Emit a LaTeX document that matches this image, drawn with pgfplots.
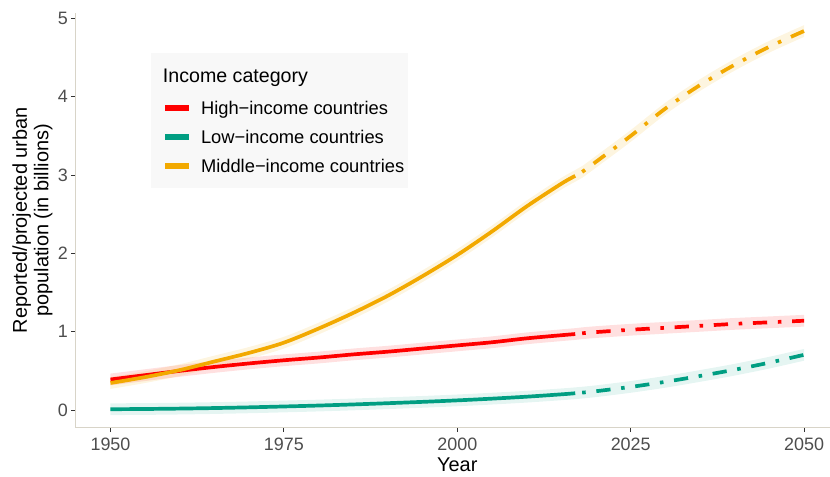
\documentclass[border=0pt]{standalone}
\usepackage{fontspec}
\setmainfont{Liberation Sans}
\usepackage{pgfplots}
\pgfplotsset{compat=1.18}
\usepackage{pgfplotstable}
\usepgfplotslibrary{fillbetween}

\definecolor{hicol}{RGB}{255,0,0}
\definecolor{locol}{RGB}{0,158,130}
\definecolor{micol}{RGB}{242,169,0}
\definecolor{axcol}{RGB}{216,212,200}
\definecolor{tkcol}{RGB}{77,77,77}
\definecolor{legbg}{RGB}{248,248,248}

% urban population in billions, with half-width of the uncertainty band
\pgfplotstableread{
year v se
1950 0.39 0.075
1955 0.445 0.075
1960 0.50 0.075
1965 0.55 0.075
1970 0.595 0.075
1975 0.635 0.075
1980 0.67 0.075
1985 0.71 0.075
1990 0.745 0.075
1995 0.785 0.075
2000 0.825 0.075
2005 0.865 0.075
2010 0.915 0.075
2015 0.955 0.075
2017 0.97 0.075
2018 0.98 0.075
2020 0.995 0.075
2025 1.025 0.075
2030 1.05 0.075
2035 1.075 0.075
2040 1.10 0.075
2045 1.12 0.075
2050 1.14 0.075
}\high

\pgfplotstableread{
year v se
1950 0.010 0.075
1955 0.013 0.075
1960 0.018 0.075
1965 0.025 0.075
1970 0.034 0.075
1975 0.045 0.075
1980 0.057 0.075
1985 0.071 0.075
1990 0.087 0.075
1995 0.104 0.075
2000 0.123 0.075
2005 0.145 0.075
2010 0.170 0.075
2015 0.200 0.075
2017 0.214 0.075
2018 0.222 0.075
2020 0.240 0.075
2025 0.295 0.075
2030 0.360 0.075
2035 0.435 0.075
2040 0.515 0.075
2045 0.605 0.075
2050 0.705 0.075
}\low

\pgfplotstableread{
year v se
1950 0.345 0.075
1955 0.42 0.075
1960 0.51 0.075
1965 0.62 0.075
1970 0.73 0.075
1975 0.86 0.075
1980 1.04 0.075
1985 1.24 0.075
1990 1.46 0.075
1995 1.71 0.075
2000 1.98 0.075
2005 2.28 0.075
2010 2.60 0.075
2015 2.89 0.075
2017 2.99 0.075
2018 3.04 0.075
2020 3.17 0.075
2025 3.50 0.075
2030 3.85 0.075
2035 4.15 0.075
2040 4.41 0.075
2045 4.64 0.075
2050 4.84 0.075
}\middle

\pgfplotsset{
  proj/.style={dash pattern=on 3.56bp off 10.7bp on 14.25bp off 10.7bp},
  series/.style={line width=3.7bp, smooth, forget plot},
}

\begin{document}
\begin{tikzpicture}
\begin{axis}[
  scale only axis, width=763bp, height=414.7bp,
  xmin=1945, xmax=2055, ymin=-0.226, ymax=5.07,
  axis lines=left,
  axis line style={axcol, line width=1.3bp, -},
  xtick={1950,1975,2000,2025,2050}, ytick={0,1,2,3,4,5},
  tick align=outside, major tick length=4.5bp,
  tick style={color=black!80, line width=1bp},
  /pgf/number format/1000 sep={},
  /pgf/number format/assume math mode=true,
  ticklabel style={font=\fontsize{18}{18}\selectfont, text=tkcol},
  xticklabel style={yshift=-2bp},
  xlabel={Year},
  xlabel style={font=\fontsize{20}{20}\selectfont, at={(axis description cs:0.5,-0.1068)}, anchor=base},
  ylabel={Reported/projected urban\\population (in billions)},
  ylabel style={font=\fontsize{20}{21.7}\selectfont, align=center, at={(axis description cs:-0.0568,0.5)}, anchor=center},
  legend style={
    at={(axis description cs:0.1130,0.7856)}, anchor=north west,
    fill=none, draw=none, inner sep=0pt, outer sep=0pt,
    row sep=11.7bp,
    font=\fontsize{18.4}{18.4}\selectfont,
    nodes={inner sep=0pt, outer sep=0pt, text height=13bp, text depth=4bp},
    /tikz/every odd column/.append style={column sep=9.5bp},
  },
  legend cell align=left,
  legend image code/.code={\draw[#1, line width=6bp] (0bp,2bp) -- (23.5bp,2bp);},
]
% legend panel and its title
\fill[legbg] (axis description cs:0.0985,0.9035) rectangle (axis description cs:0.4354,0.578);
\node[anchor=base west, inner sep=0pt, font=\fontsize{19.7}{19.7}\selectfont]
  at (axis description cs:0.1139,0.8336) {Income category};

% uncertainty bands
\addplot[draw=none, name path=hU, smooth, forget plot] table[x=year, y expr=\thisrow{v}+\thisrow{se}] {\high};
\addplot[draw=none, name path=hL, smooth, forget plot] table[x=year, y expr=\thisrow{v}-\thisrow{se}] {\high};
\addplot[fill=hicol, fill opacity=0.12, draw=none, forget plot] fill between[of=hU and hL];
\addplot[draw=none, name path=lU, smooth, forget plot] table[x=year, y expr=\thisrow{v}+\thisrow{se}] {\low};
\addplot[draw=none, name path=lL, smooth, forget plot] table[x=year, y expr=\thisrow{v}-\thisrow{se}] {\low};
\addplot[fill=locol, fill opacity=0.10, draw=none, forget plot] fill between[of=lU and lL];
\addplot[draw=none, name path=mU, smooth, forget plot] table[x=year, y expr=\thisrow{v}+\thisrow{se}] {\middle};
\addplot[draw=none, name path=mL, smooth, forget plot] table[x=year, y expr=\thisrow{v}-\thisrow{se}] {\middle};
\addplot[fill=micol, fill opacity=0.12, draw=none, forget plot] fill between[of=mU and mL];

% reported (solid) and projected (dot-dash) lines
\addplot[hicol, series, restrict x to domain=1950:2017] table[x=year, y=v] {\high};
\addplot[hicol, series, proj, restrict x to domain=2018:2050] table[x=year, y=v] {\high};
\addplot[locol, series, restrict x to domain=1950:2017] table[x=year, y=v] {\low};
\addplot[locol, series, proj, restrict x to domain=2018:2050] table[x=year, y=v] {\low};
\addplot[micol, series, restrict x to domain=1950:2017] table[x=year, y=v] {\middle};
\addplot[micol, series, proj, restrict x to domain=2018:2050] table[x=year, y=v] {\middle};

\addlegendimage{hicol}
\addlegendentry{High−income countries}
\addlegendimage{locol}
\addlegendentry{Low−income countries}
\addlegendimage{micol}
\addlegendentry{Middle−income countries}

\coordinate (sw) at (rel axis cs:0,0);
\end{axis}
\path (sw) ++(-75.8bp,-49.3bp) coordinate (bba);
\path (sw) ++(754.2bp,427.7bp) coordinate (bbb);
\pgfresetboundingbox
\path (bba) rectangle (bbb);
\end{tikzpicture}
\end{document}
